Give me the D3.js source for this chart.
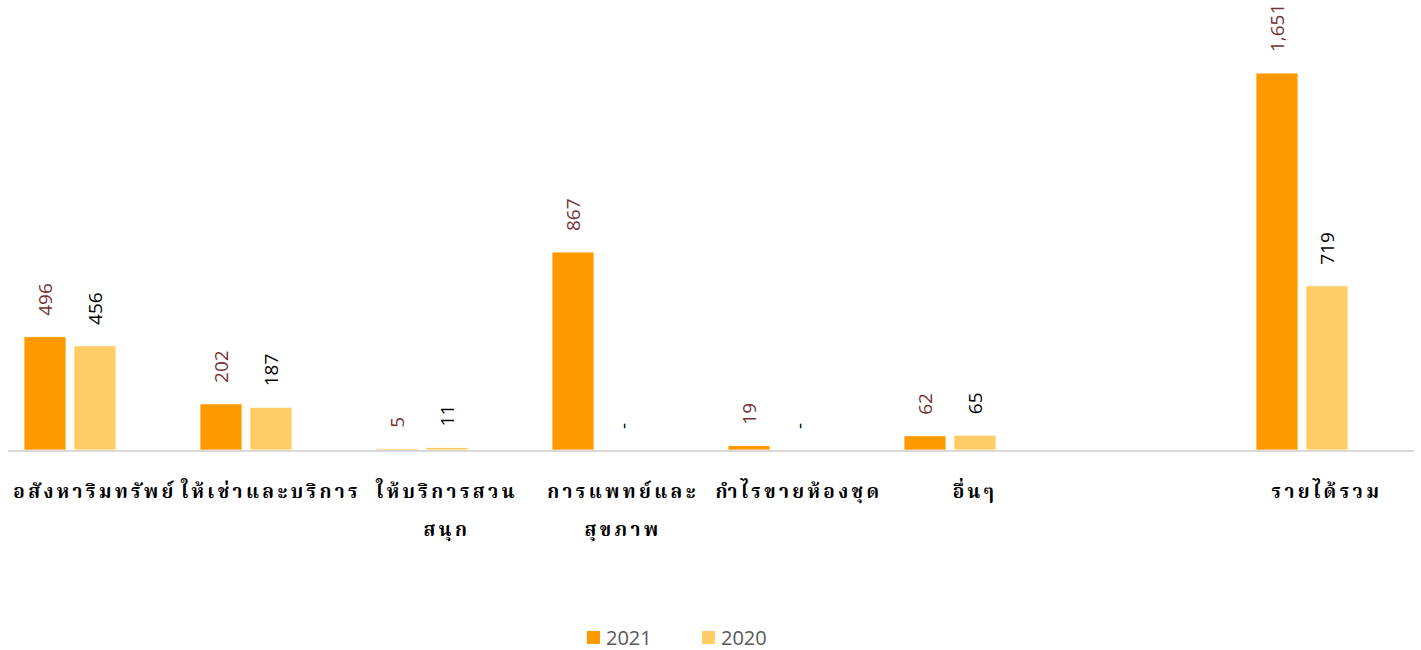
<!DOCTYPE html>
<html>
<head>
<meta charset="utf-8">
<script src="https://cdn.jsdelivr.net/npm/d3@7"></script>
<style>
  html, body { margin: 0; padding: 0; background: #fff; }
  svg { display: block; }
</style>
</head>
<body>
<svg id="chart" width="1421" height="650"></svg>
<script>
// ---- data ----
const categories = ["อสังหาริมทรัพย์", "ให้เช่าและบริการ", "ให้บริการสวนสนุก", "การแพทย์และสุขภาพ", "กำไรขายห้องชุด", "อื่นๆ", "", "รายได้รวม"];
const categoryLines = [["อสังหาริมทรัพย์"], ["ให้เช่าและบริการ"], ["ให้บริการสวน", "สนุก"], ["การแพทย์และ", "สุขภาพ"], ["กำไรขายห้องชุด"], ["อื่นๆ"], [], ["รายได้รวม"]];
const seriesNames = ["2021", "2020"];
const values2021 = [496, 202, 5, 867, 19, 62, null, 1651];
const values2020 = [456, 187, 11, 0, 0, 65, null, 719];
const seriesColors = ["#FF9900", "#FFCC66"];
const labelColors = ["#763232", "#000000"];

// ---- layout ----
const svg = d3.select("#chart");
const baseY = 450;
const x0 = d3.scaleBand().domain(categories.map((c, i) => i)).range([-18, 1390]).padding(0);
const x1 = d3.scaleBand().domain(seriesNames).range([0, 92]).paddingInner(0.16);
const groupOffset = (x0.bandwidth() - 92) / 2;
const y = d3.scaleLinear().domain([0, 1800]).range([baseY, 39]);

const series = [values2021, values2020];

series.forEach((vals, si) => {
  const g = svg.append("g");
  vals.forEach((v, i) => {
    if (v === null) return;
    const bx = x0(i) + groupOffset + x1(seriesNames[si]);
    const top = y(v);
    if (v > 0) {
      g.append("rect")
        .attr("x", bx).attr("y", top)
        .attr("width", x1.bandwidth()).attr("height", baseY - top)
        .attr("fill", seriesColors[si])
        .attr("stroke", "#fff").attr("stroke-width", 0.75);
    }
    const cx = bx + x1.bandwidth() / 2;
    g.append("text")
      .attr("transform", `translate(${cx},${top - 21}) rotate(-90)`)
      .attr("text-anchor", "start")
      .attr("dominant-baseline", "central")
      .attr("font-family", "'Open Sans', 'Noto Sans', sans-serif")
      .attr("font-size", 19)
      .attr("fill", labelColors[si])
      .text(v === 0 ? "-" : d3.format(",")(v));
  });
});

// axis line
svg.append("line")
  .attr("x1", 8).attr("x2", 1414)
  .attr("y1", baseY + 1).attr("y2", baseY + 1)
  .attr("stroke", "#d9d9d9").attr("stroke-width", 2);

// category labels
categoryLines.forEach((lines, i) => {
  const cx = x0(i) + x0.bandwidth() / 2 + 25;
  lines.forEach((ln, li) => {
    svg.append("text")
      .attr("x", cx).attr("y", 498 + li * 38)
      .attr("text-anchor", "middle")
      .attr("font-family", "'Noto Serif Thai', 'Noto Sans Thai', 'Tlwg Typo', 'Garuda', 'Loma', serif")
      .attr("font-weight", "bold")
      .attr("font-size", 19)
      .attr("letter-spacing", 3.4)
      .attr("fill", "#000")
      .text(ln);
  });
});

// legend
const legendX = [587, 702];
seriesNames.forEach((s, i) => {
  svg.append("rect").attr("x", legendX[i]).attr("y", 631).attr("width", 13).attr("height", 13).attr("fill", seriesColors[i]);
  svg.append("text").attr("x", legendX[i] + 19).attr("y", 645)
    .attr("font-family", "'Open Sans', 'Noto Sans', sans-serif")
    .attr("font-size", 20).attr("fill", "#595959").text(s);
});
</script>
</body>
</html>
